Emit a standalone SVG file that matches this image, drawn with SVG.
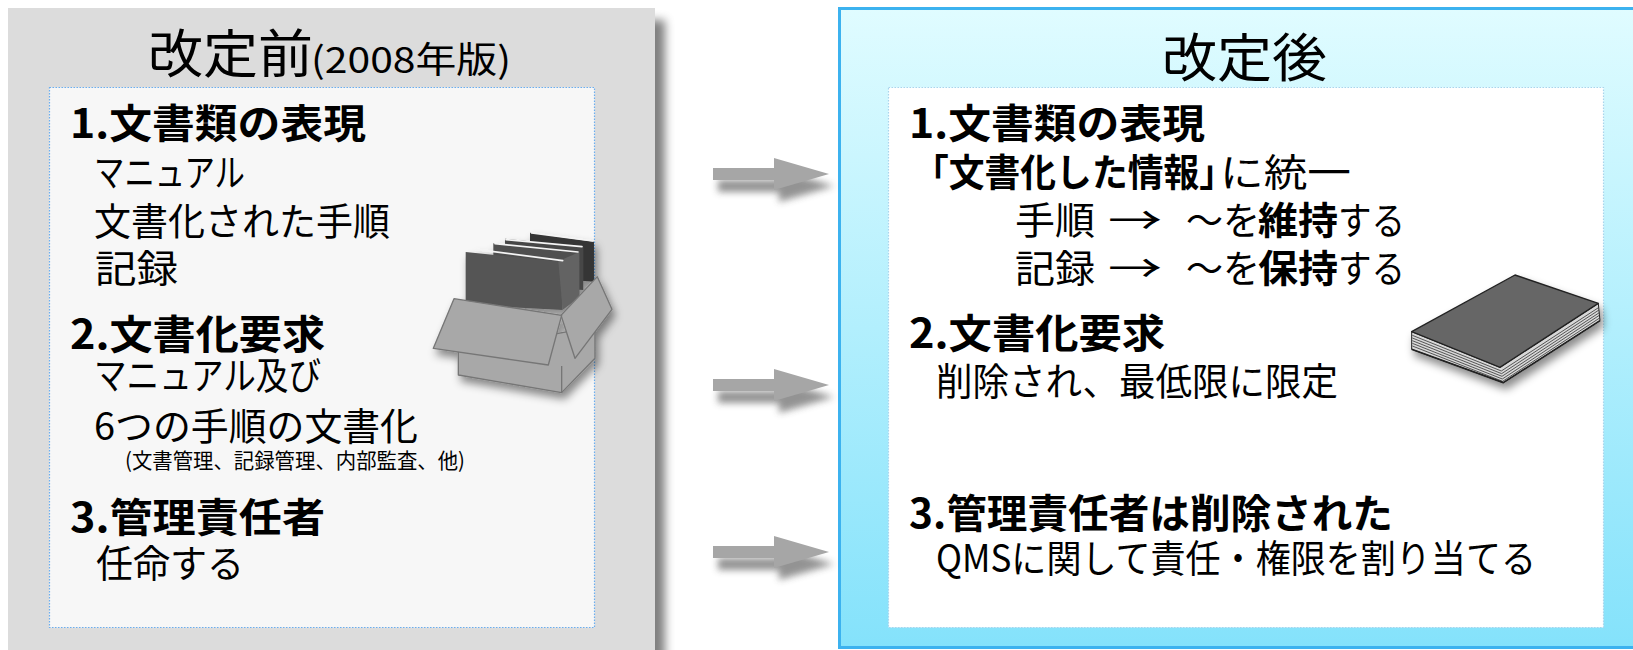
<svg xmlns="http://www.w3.org/2000/svg" width="1633" height="650" viewBox="0 0 1633 650">
  <defs>
    <style>
      text { font-family: "Noto Sans CJK JP", "Noto Sans CJK SC", sans-serif; fill: #000; }
      .title { font-size: 52px; }
      .sub { font-size: 36px; }
      .head { font-size: 40px; font-weight: 700; }
      .body { font-size: 38px; }
      .bold { font-size: 38px; font-weight: 700; }
      .note { font-size: 21px; }
      .arrow { fill: #a6a6a6; }
      .arrow-shadow { fill: #3a3a3a; opacity: 0.55; filter: url(#blur3); }
    </style>
    <linearGradient id="afterFill" x1="0" y1="0" x2="0" y2="1">
      <stop offset="0" stop-color="#e0fcff"/>
      <stop offset="1" stop-color="#84e2fb"/>
    </linearGradient>
    <filter id="panelShadow" x="-5%" y="-5%" width="115%" height="115%">
      <feGaussianBlur in="SourceAlpha" stdDeviation="5"/>
      <feOffset dx="10" dy="12" result="off"/>
      <feFlood flood-color="#000" flood-opacity="0.5"/>
      <feComposite in2="off" operator="in" result="sh"/>
      <feMerge><feMergeNode in="sh"/><feMergeNode in="SourceGraphic"/></feMerge>
    </filter>
    <filter id="iconShadow" x="-20%" y="-20%" width="150%" height="150%">
      <feGaussianBlur in="SourceAlpha" stdDeviation="12"/>
      <feOffset dx="10" dy="18" result="off"/>
      <feFlood flood-color="#000" flood-opacity="0.45"/>
      <feComposite in2="off" operator="in" result="sh"/>
      <feMerge><feMergeNode in="sh"/><feMergeNode in="SourceGraphic"/></feMerge>
    </filter>
    <filter id="blur3" x="-20%" y="-50%" width="140%" height="200%">
      <feGaussianBlur stdDeviation="3.5"/>
    </filter>
    <path id="arrowShape" d="M0,-6 H61 V-16 L116,0 L61,16 V6 H0 Z"/>
  </defs>

  <rect width="1633" height="650" fill="#ffffff"/>

  <!-- Before revision panel -->
  <g id="before">
    <rect x="8" y="8" width="647" height="660" fill="#dcdcdc" filter="url(#panelShadow)"/>
    <rect x="49.5" y="87.5" width="545" height="540" fill="#f7f7f7" stroke="#6aaef0" stroke-width="1.2" stroke-dasharray="1.5 1.5"/>
    <text class="title" x="148" y="73" textLength="165" lengthAdjust="spacingAndGlyphs">改定前</text>
    <text class="sub" x="311" y="73" textLength="200" lengthAdjust="spacingAndGlyphs">(2008年版)</text>

    <text class="head" x="70" y="138" textLength="296" lengthAdjust="spacingAndGlyphs">1.文書類の表現</text>
    <text class="body" x="94" y="186" textLength="151" lengthAdjust="spacingAndGlyphs">マニュアル</text>
    <text class="body" x="94" y="235" textLength="296" lengthAdjust="spacingAndGlyphs">文書化された手順</text>
    <text class="body" x="95" y="282" textLength="83" lengthAdjust="spacingAndGlyphs">記録</text>

    <text class="head" x="70" y="349" textLength="255" lengthAdjust="spacingAndGlyphs">2.文書化要求</text>
    <text class="body" x="94" y="389" textLength="227" lengthAdjust="spacingAndGlyphs">マニュアル及び</text>
    <text class="body" x="94" y="440" textLength="324" lengthAdjust="spacingAndGlyphs">6つの手順の文書化</text>
    <text class="note" x="125" y="468" textLength="340" lengthAdjust="spacingAndGlyphs">(文書管理、記録管理、内部監査、他)</text>

    <text class="head" x="70" y="532" textLength="255" lengthAdjust="spacingAndGlyphs">3.管理責任者</text>
    <text class="body" x="96" y="577" textLength="148" lengthAdjust="spacingAndGlyphs">任命する</text>
  </g>

  <!-- Box of binders -->
  <g id="binder-box" transform="translate(420,210) scale(0.3333)" filter="url(#iconShadow)">
    <polygon points="330,68 522,95 522,215 330,200" fill="#353535"/>
    <polygon points="255,86 490,110 490,240 255,225" fill="#474747"/>
    <polygon points="220,100 478,126 478,262 220,242" fill="#4f4f4f"/>
    <polygon points="137,126 428,156 428,300 137,285" fill="#555555"/>
    <polygon points="415,154 478,126 478,262 428,300" fill="#636363"/>
    <g stroke="#f4f4f4" stroke-width="5" stroke-linecap="round">
      <line x1="168" y1="118" x2="428" y2="152"/>
      <line x1="225" y1="101" x2="474" y2="126"/>
      <line x1="258" y1="89" x2="486" y2="110"/>
      <line x1="335" y1="69" x2="518" y2="93"/>
    </g>
    <g fill="#a8a8a8" stroke="#767676" stroke-width="4" stroke-linejoin="round">
      <polygon points="115,425 115,495 425,548 525,445 525,350"/>
      <polygon points="423,316 532,200 576,298 465,445"/>
      <polygon points="40,415 102,266 425,316 385,465"/>
      <line x1="425" y1="468" x2="425" y2="548"/>
    </g>
  </g>

  <!-- After revision panel -->
  <g id="after">
    <rect x="839.5" y="8.5" width="810" height="639" fill="url(#afterFill)" stroke="#3cb2ef" stroke-width="3"/>
    <rect x="888.5" y="87.5" width="715" height="540" fill="#ffffff" stroke="#a9d4ec" stroke-width="1.2" stroke-dasharray="1.5 1.5"/>
    <text class="title" x="1162" y="77" textLength="165" lengthAdjust="spacingAndGlyphs">改定後</text>

    <text class="head" x="909" y="138" textLength="296" lengthAdjust="spacingAndGlyphs">1.文書類の表現</text>
    <text class="bold" x="913" y="186" textLength="322" lengthAdjust="spacingAndGlyphs">「文書化した情報」</text>
    <text class="body" x="1220" y="186" textLength="131" lengthAdjust="spacingAndGlyphs">に統一</text>

    <text class="body" x="1015" y="234" textLength="80" lengthAdjust="spacingAndGlyphs">手順</text>
    <text class="body" x="1108" y="234" textLength="54" lengthAdjust="spacingAndGlyphs">→</text>
    <text class="body" x="1186" y="234" textLength="74" lengthAdjust="spacingAndGlyphs">～を</text>
    <text class="bold" x="1258" y="234" textLength="80" lengthAdjust="spacingAndGlyphs">維持</text>
    <text class="body" x="1338" y="234" textLength="67" lengthAdjust="spacingAndGlyphs">する</text>

    <text class="body" x="1015" y="282" textLength="80" lengthAdjust="spacingAndGlyphs">記録</text>
    <text class="body" x="1108" y="282" textLength="54" lengthAdjust="spacingAndGlyphs">→</text>
    <text class="body" x="1186" y="282" textLength="74" lengthAdjust="spacingAndGlyphs">～を</text>
    <text class="bold" x="1258" y="282" textLength="80" lengthAdjust="spacingAndGlyphs">保持</text>
    <text class="body" x="1338" y="282" textLength="67" lengthAdjust="spacingAndGlyphs">する</text>

    <text class="head" x="909" y="348" textLength="256" lengthAdjust="spacingAndGlyphs">2.文書化要求</text>
    <text class="body" x="936" y="395" textLength="402" lengthAdjust="spacingAndGlyphs">削除され、最低限に限定</text>

    <text class="head" x="909" y="528" textLength="484" lengthAdjust="spacingAndGlyphs">3.管理責任者は削除された</text>
    <text class="body" x="936" y="572" textLength="600" lengthAdjust="spacingAndGlyphs">QMSに関して責任・権限を割り当てる</text>
  </g>

  <!-- Closed book -->
  <g id="book" transform="translate(1380,260) scale(0.3333)" filter="url(#iconShadow)">
    <polygon points="95,215 95,268 370,368 660,182 655,130 360,322" fill="#d8d8d8" stroke="#222" stroke-width="3" stroke-linejoin="round"/>
    <g fill="none" stroke="#3a3a3a" stroke-width="2.5">
      <polyline points="97,226 364,333 657,142"/>
      <polyline points="97,234 365,341 657,150"/>
      <polyline points="97,242 366,349 658,158"/>
      <polyline points="97,250 367,357 658,166"/>
      <polyline points="97,258 368,364 659,174"/>
    </g>
    <polyline points="95,268 370,368 660,182" fill="none" stroke="#222" stroke-width="5" stroke-linejoin="round"/>
    <polygon points="95,215 405,45 655,130 360,322" fill="#666666" stroke="#222" stroke-width="4" stroke-linejoin="round"/>
  </g>

  <!-- Connectors -->
  <g id="connectors">
    <use href="#arrowShape" class="arrow-shadow" x="718" y="186"/>
    <use href="#arrowShape" class="arrow" x="713" y="174"/>
    <use href="#arrowShape" class="arrow-shadow" x="718" y="397"/>
    <use href="#arrowShape" class="arrow" x="713" y="385"/>
    <use href="#arrowShape" class="arrow-shadow" x="718" y="564"/>
    <use href="#arrowShape" class="arrow" x="713" y="552"/>
  </g>
</svg>
